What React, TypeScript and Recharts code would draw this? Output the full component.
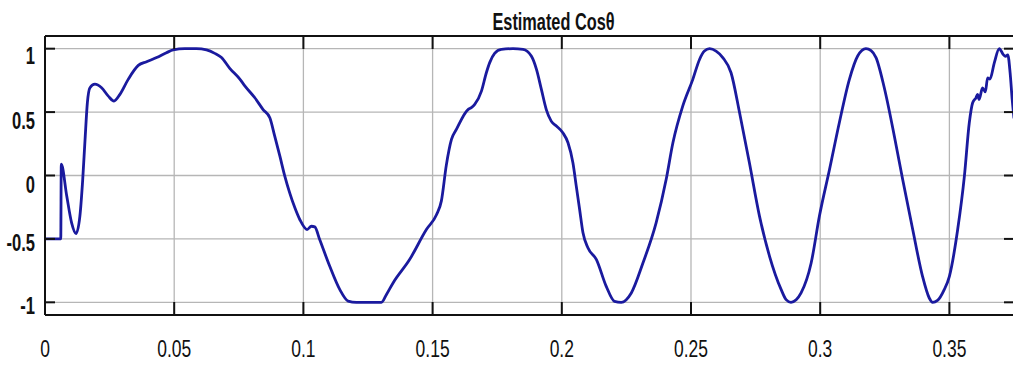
import React from 'react';
import { LineChart, Line, XAxis, YAxis, CartesianGrid } from 'recharts';

const titleText = 'Estimated Cosθ';
const xTicks = [0, 0.05, 0.1, 0.15, 0.2, 0.25, 0.3, 0.35];
const xTickLabels = ['0', '0.05', '0.1', '0.15', '0.2', '0.25', '0.3', '0.35'];
const yTicks = [-1, -0.5, 0, 0.5, 1];
const yTickLabels = ['-1', '-0.5', '0', '0.5', '1'];

const timeSec = [
  0, 0.0061, 0.0063, 0.0084, 0.0103, 0.012, 0.0135, 0.0146, 0.0155, 0.0164,
  0.0174, 0.0193, 0.0219, 0.0245, 0.0267, 0.029, 0.0322, 0.0361, 0.0393, 0.0432,
  0.047, 0.0496, 0.0541, 0.0586, 0.0625, 0.0657, 0.0683, 0.0715, 0.0754, 0.0774,
  0.0812, 0.0844, 0.087, 0.0889, 0.0909, 0.0928, 0.0947, 0.0967, 0.0986, 0.1014,
  0.1031, 0.1044, 0.1063, 0.1102, 0.1141, 0.1173, 0.1205, 0.1302, 0.1321, 0.1347,
  0.1411, 0.1476, 0.1515, 0.1534, 0.1553, 0.1573, 0.1592, 0.1637, 0.165, 0.1663,
  0.1689, 0.1708, 0.1721, 0.174, 0.1766, 0.1811, 0.185, 0.1882, 0.1902, 0.1921,
  0.194, 0.1959, 0.1979, 0.2004, 0.2024, 0.2043, 0.2056, 0.2069, 0.2082, 0.2101,
  0.2134, 0.2172, 0.2204, 0.223, 0.2269, 0.2314, 0.2365, 0.2404, 0.243, 0.2468,
  0.2507, 0.2533, 0.2552, 0.2572, 0.2597, 0.2623, 0.2655, 0.2688, 0.2726, 0.2765,
  0.2804, 0.2849, 0.2868, 0.2887, 0.2907, 0.2926, 0.2965, 0.2997, 0.3036, 0.3074,
  0.3113, 0.3145, 0.3177, 0.3197, 0.3216, 0.3248, 0.3287, 0.3319, 0.3358, 0.3396,
  0.3422, 0.3435, 0.3454, 0.348, 0.35, 0.3532, 0.3558, 0.3577, 0.359, 0.3603,
  0.3609, 0.3615, 0.3628, 0.3639, 0.3648, 0.3657, 0.3674, 0.3693, 0.3708, 0.3717,
  0.3726, 0.3735, 0.3743, 0.375,
];

const cosTheta = [
  -0.5, -0.5, 0.09, -0.16, -0.373, -0.458, -0.32, -0.03, 0.284, 0.574,
  0.692, 0.72, 0.692, 0.626, 0.587, 0.64, 0.758, 0.868, 0.897, 0.93,
  0.968, 0.99, 1.0, 1.0, 0.99, 0.963, 0.93, 0.845, 0.76, 0.705,
  0.613, 0.52, 0.455, 0.31, 0.152, -0.005, -0.137, -0.255, -0.347, -0.426,
  -0.4, -0.405, -0.505, -0.716, -0.9, -0.99, -1.0, -1.0, -0.94, -0.847,
  -0.663, -0.426, -0.31, -0.2, 0.08, 0.284, 0.363, 0.52, 0.535, 0.56,
  0.665, 0.81, 0.89, 0.963, 0.995, 1.0, 0.995, 0.942, 0.837, 0.679,
  0.52, 0.429, 0.39, 0.337, 0.258, 0.1, -0.084, -0.268, -0.452, -0.57,
  -0.663, -0.874, -0.992, -1.0, -0.926, -0.69, -0.373, -0.03, 0.258, 0.547,
  0.758, 0.915, 0.981, 1.0, 0.981, 0.93, 0.81, 0.495, 0.1, -0.32,
  -0.637, -0.9, -0.979, -1.0, -0.98, -0.926, -0.69, -0.32, 0.047, 0.416,
  0.758, 0.942, 1.0, 0.985, 0.93, 0.692, 0.31, -0.03, -0.426, -0.795,
  -0.966, -1.0, -0.985, -0.9, -0.795, -0.426, -0.005, 0.416, 0.574, 0.613,
  0.64, 0.6, 0.69, 0.66, 0.77, 0.76, 0.89, 1.0, 0.955, 0.94,
  0.95, 0.81, 0.6, 0.45,
];

const xDomain: [number, number] = [0, 0.375];
const yDomain: [number, number] = [-1.1, 1.1];

const data = timeSec.map((t, i) => ({ t, v: cosTheta[i] }));

// styling
const FONT = '"Liberation Sans", Arial, Helvetica, sans-serif';
const INK = '#111';
const LINE_COLOR = '#1a1a9e';
const GRID_COLOR = '#b6b6b6';
const X_TICK_LEN = 13;
const Y_TICK_LEN = 10;
const Y_LABEL_BASELINE = [11.5, 11.7, 17.3, 17.3, 15.5];

const BottomTick = (props: any) => {
  const { x, y, payload } = props;
  const i = xTicks.indexOf(payload.value);
  return (
    <g>
      <line x1={x} y1={y} x2={x} y2={y - X_TICK_LEN} stroke={INK} strokeWidth={2} />
      <text
        transform={`translate(${x},${y + 42}) scale(0.76,1)`}
        textAnchor="middle"
        fontSize={23}
        fontFamily={FONT}
        fill={INK}
      >
        {i >= 0 ? xTickLabels[i] : ''}
      </text>
    </g>
  );
};

const TopTick = (props: any) => {
  const { x, y } = props;
  return <line x1={x} y1={y} x2={x} y2={y + X_TICK_LEN} stroke={INK} strokeWidth={2} />;
};

const LeftTick = (props: any) => {
  const { x, y, payload } = props;
  const i = yTicks.indexOf(payload.value);
  return (
    <g>
      <line x1={x} y1={y} x2={x + Y_TICK_LEN} y2={y} stroke={INK} strokeWidth={2} />
      <text
        transform={`translate(${x - 10},${y + (i >= 0 ? Y_LABEL_BASELINE[i] : 8)}) scale(0.72,1)`}
        textAnchor="end"
        fontSize={23}
        fontWeight="bold"
        fontFamily={FONT}
        fill={INK}
      >
        {i >= 0 ? yTickLabels[i] : ''}
      </text>
    </g>
  );
};

const RightTick = (props: any) => {
  const { x, y } = props;
  return <line x1={x} y1={y} x2={x - Y_TICK_LEN} y2={y} stroke={INK} strokeWidth={2} />;
};

export default function App() {
  return (
    <div
      style={{
        position: 'absolute',
        left: 0,
        top: 0,
        width: 1013,
        height: 365,
        overflow: 'hidden',
        background: '#fff',
      }}
    >
      <LineChart
        width={1030}
        height={365}
        data={data}
        margin={{ top: 16, right: 15, bottom: 20, left: 5 }}
      >
        <XAxis
          xAxisId="bottom"
          orientation="bottom"
          dataKey="t"
          type="number"
          domain={xDomain}
          ticks={xTicks}
          interval={0}
          allowDataOverflow
          height={30}
          tickSize={0}
          tickMargin={0}
          tickLine={false}
          axisLine={{ stroke: INK, strokeWidth: 2 }}
          tick={<BottomTick />}
        />
        <XAxis
          xAxisId="top"
          orientation="top"
          dataKey="t"
          type="number"
          domain={xDomain}
          ticks={xTicks}
          interval={0}
          allowDataOverflow
          height={20}
          tickSize={0}
          tickMargin={0}
          tickLine={false}
          axisLine={{ stroke: INK, strokeWidth: 2 }}
          tick={<TopTick />}
        />
        <YAxis
          yAxisId="left"
          orientation="left"
          type="number"
          domain={yDomain}
          ticks={yTicks}
          interval={0}
          allowDataOverflow
          width={40}
          tickSize={0}
          tickMargin={0}
          tickLine={false}
          axisLine={{ stroke: INK, strokeWidth: 2 }}
          tick={<LeftTick />}
        />
        <YAxis
          yAxisId="right"
          orientation="right"
          type="number"
          domain={yDomain}
          ticks={yTicks}
          interval={0}
          allowDataOverflow
          width={1}
          tickSize={0}
          tickMargin={0}
          tickLine={false}
          axisLine={{ stroke: INK, strokeWidth: 2 }}
          tick={<RightTick />}
        />
        <CartesianGrid
          xAxisId="bottom"
          yAxisId="left"
          stroke={GRID_COLOR}
          strokeWidth={1.3}
        />
        <Line
          xAxisId="top"
          yAxisId="right"
          type="monotone"
          dataKey="v"
          stroke="none"
          strokeWidth={0}
          dot={false}
          activeDot={false}
          isAnimationActive={false}
        />
        <Line
          xAxisId="bottom"
          yAxisId="left"
          type="monotone"
          dataKey="v"
          stroke={LINE_COLOR}
          strokeWidth={2.8}
          dot={false}
          isAnimationActive={false}
        />
      </LineChart>
      <svg
        width={1013}
        height={365}
        style={{ position: 'absolute', left: 0, top: 0, pointerEvents: 'none' }}
      >
        <text
          transform="translate(553.5,29.5) scale(0.68,1)"
          textAnchor="middle"
          fontSize={24}
          fontWeight="bold"
          fontFamily={FONT}
          fill={INK}
        >
          {titleText}
        </text>
      </svg>
    </div>
  );
}
